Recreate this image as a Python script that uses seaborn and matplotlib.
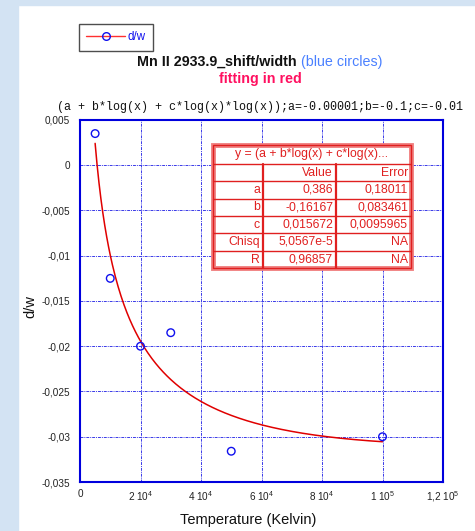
import numpy as np
import pandas as pd
import matplotlib
matplotlib.use("Agg")
import matplotlib.pyplot as plt
from matplotlib.patches import Rectangle
from matplotlib.lines import Line2D
import seaborn as sns

# Measured points
temperature = [5000, 10000, 20000, 30000, 50000, 100000]
dw = [0.0035, -0.0125, -0.0200, -0.0185, -0.0316, -0.0300]

# Fit parameters y = a + b*log(x) + c*log(x)^2
fit_names = ["a", "b", "c", "Chisq", "R"]
fit_values = ["0,386", "-0,16167", "0,015672", "5,0567e-5", "0,96857"]
fit_errors = ["0,18011", "0,083461", "0,0095965", "NA", "NA"]
a_fit, b_fit, c_fit = 0.386, -0.16167, 0.015672

y_ticks = [0.005, 0, -0.005, -0.01, -0.015, -0.02, -0.025, -0.03, -0.035]
x_ticks = [0, 20000, 40000, 60000, 80000, 100000, 120000]
x_tick_labels = ["0", r"2 10$^{4}$", r"4 10$^{4}$", r"6 10$^{4}$",
                 r"8 10$^{4}$", r"1 10$^{5}$", r"1,2 10$^{5}$"]

sns.set_style("white")
plt.rcParams["font.family"] = ["Liberation Sans", "DejaVu Sans"]
plt.rcParams["mathtext.fontset"] = "custom"
plt.rcParams["mathtext.rm"] = "Liberation Sans"
plt.rcParams["mathtext.default"] = "regular"

W, H = 475, 531
fig = plt.figure(figsize=(W / 100, H / 100), dpi=100)
fig.patch.set_facecolor("white")

# light blue page strip on the left and top
fig.add_artist(Rectangle((0, 0), 18 / W, 1, transform=fig.transFigure,
                         color="#d3e3f3", zorder=0))
fig.add_artist(Rectangle((0, 1 - 5 / H), 1, 5 / H, transform=fig.transFigure,
                         color="#d3e3f3", zorder=0))

ax = fig.add_axes([80 / W, 1 - 482 / H, 363 / W, 362 / H])

df = pd.DataFrame({"T": temperature, "dw": dw})
xf = np.linspace(5000, 100000, 300)
curve = pd.DataFrame({"T": xf,
                      "fit": a_fit + b_fit * np.log10(xf) + c_fit * np.log10(xf) ** 2})

sns.lineplot(data=curve, x="T", y="fit", ax=ax, color="#e00000", lw=1.1, zorder=3)
sns.scatterplot(data=df, x="T", y="dw", ax=ax, marker="o", s=30,
                facecolor="none", edgecolor="#1010ee", linewidth=1.0, zorder=4)

ax.set_xlim(0, 120000)
ax.set_ylim(-0.035, 0.005)
ax.set_xticks(x_ticks)
ax.set_xticklabels(x_tick_labels, fontsize=7.2, color="#222222")
ax.set_yticks(y_ticks)
ax.set_yticklabels([("%g" % v).replace(".", ",") for v in y_ticks],
                   fontsize=7.2, color="#222222")
ax.tick_params(length=0)
ax.tick_params(axis="x", pad=5)
ax.tick_params(axis="y", pad=7)
ax.grid(True, color="#3a3ae8", lw=0.7, linestyle=(0, (3, 1, 1, 1)))
for s in ax.spines.values():
    s.set_color("#0000dd")
    s.set_linewidth(1.5)
ax.set_xlabel("")
ax.set_ylabel("")

fig.text(30 / W, 1 - 307 / H, "d/w", rotation=90, ha="center", va="center",
         fontsize=10.5, color="#111111")
fig.text(248 / W, 1 - 520 / H, "Temperature (Kelvin)", ha="center", va="center",
         fontsize=10.5, color="#111111")

# Titles
t1 = fig.text(137 / W, 1 - 62 / H, "Mn II 2933.9_shift/width ", ha="left",
              va="center", fontsize=10.3, fontweight="bold", color="#111111")
fig.canvas.draw()
bb = t1.get_window_extent()
fig.text(bb.x1 / W, 1 - 62 / H, "(blue circles)", ha="left", va="center",
         fontsize=10.3, color="#4a80ff")
fig.text(260 / W, 1 - 79 / H, "fitting in red", ha="center", va="center",
         fontsize=10.3, fontweight="bold", color="#ff1060")
fig.text(260 / W, 1 - 107 / H,
         "(a + b*log(x) + c*log(x)*log(x));a=-0.00001;b=-0.1;c=-0.01",
         ha="center", va="center", fontsize=8.35, family="Liberation Mono",
         color="#111111")

# Legend
handle = Line2D([], [], color="#ff3030", lw=1, marker="o", markersize=5.5,
                markerfacecolor="none", markeredgecolor="#1010ee")
leg = fig.legend([handle], ["d/w"], loc="upper left",
                 bbox_to_anchor=(79 / W, 1 - 24 / H), fontsize=8.3,
                 frameon=True, fancybox=False, handlelength=3.3,
                 borderpad=0.65, handletextpad=0.3, borderaxespad=0)
leg.get_frame().set_edgecolor("#222222")
leg.get_frame().set_linewidth(1.0)
for t in leg.get_texts():
    t.set_color("#1010ee")

# Fit result table
red = "#e02020"
def ax_x(px):
    return (px - 80) / 363
def ax_y(py):
    return (482 - py) / 362

tl, tr, tt, tb = 213, 411, 145, 268
col_edges = [213, 263, 336, 411]
row_edges = [145, 164, 181, 199, 216, 233, 251, 268]
tr_ax = ax.transAxes
ax.add_patch(Rectangle((ax_x(tl), ax_y(tb)), ax_x(tr) - ax_x(tl), ax_y(tt) - ax_y(tb),
                       transform=tr_ax, facecolor="white", edgecolor="#f08080",
                       lw=3.5, zorder=6, clip_on=False))
ax.add_patch(Rectangle((ax_x(tl), ax_y(tb)), ax_x(tr) - ax_x(tl), ax_y(tt) - ax_y(tb),
                       transform=tr_ax, facecolor="none", edgecolor=red,
                       lw=1.0, zorder=7, clip_on=False))
for ry in row_edges[1:-1]:
    ax.plot([ax_x(tl), ax_x(tr)], [ax_y(ry), ax_y(ry)], transform=tr_ax,
            color=red, lw=1.0, zorder=7, clip_on=False)
for cx in col_edges[1:-1]:
    ax.plot([ax_x(cx), ax_x(cx)], [ax_y(row_edges[1]), ax_y(tb)], transform=tr_ax,
            color=red, lw=1.6, zorder=7, clip_on=False)

fs = 8.8
ax.text(ax_x((tl + tr) / 2), ax_y((row_edges[0] + row_edges[1]) / 2),
        "y = (a + b*log(x) + c*log(x)...", transform=tr_ax, ha="center",
        va="center", fontsize=fs, color=red, zorder=8)
header = ["", "Value", "Error"]
rows = [header] + [[n, v, e] for n, v, e in zip(fit_names, fit_values, fit_errors)]
for i, row in enumerate(rows):
    yc = ax_y((row_edges[i + 1] + row_edges[i + 2]) / 2)
    for j, txt in enumerate(row):
        ax.text(ax_x(col_edges[j + 1] - 3), yc, txt, transform=tr_ax, ha="right",
                va="center", fontsize=fs, color=red, zorder=8)

fig.savefig("out.png", dpi=100)
